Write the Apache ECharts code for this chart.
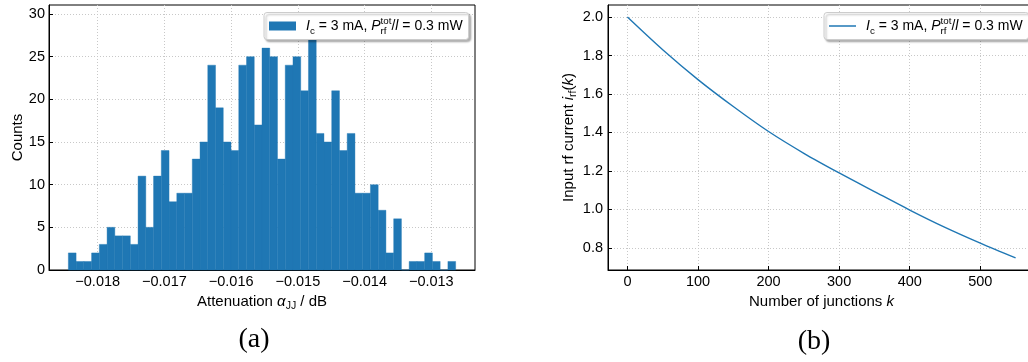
<!DOCTYPE html>
<html><head><meta charset="utf-8">
<script src="https://cdn.jsdelivr.net/npm/echarts@6/dist/echarts.min.js"></script>
<style>html,body{margin:0;padding:0;background:#fff}#c{width:1028px;height:362px}</style>
</head><body><div id="c"></div>
<script>
// ---- data ----
const binStart = -0.01844;
const binWidth = 0.0001161;
const binCounts = [2,1,1,2,3,5,4,4,3,11, 5,11,14,8,9,9,13,15,24,19, 15,14,24,25,17,26,25,13,24,25, 21,29,16,15,21,14,16,9,9,10, 7,2,6,0,1,1,2,1,0,1];
const histXTicks = [-0.018,-0.017,-0.016,-0.015,-0.014,-0.013];
const histYTicks = [0,5,10,15,20,25,30];
const junctions = [0,50,100,150,200,250,300,350,400,450,500,550];
const inputCurrent = [2.000,1.830,1.675,1.535,1.405,1.292,1.190,1.093,0.997,0.907,0.825,0.748];
const curveXTicks = [0,100,200,300,400,500];
const curveYTicks = [0.8,1.0,1.2,1.4,1.6,1.8,2.0];

// ---- styling ----
const FONT = "'Liberation Sans', Arial, sans-serif";
const FS_TICK = 14.5;
const FS_NAME = 15;
const FS_LEG = 14;
const BLUE = '#1f77b4';
function makeRich(fs) {
  const sfs = Math.round(fs * 0.7 * 10) / 10;
  return {
    t: {fontFamily: FONT, fontSize: fs, color: '#000', lineHeight: 20},
    i: {fontFamily: FONT, fontSize: fs, color: '#000', lineHeight: 20, fontStyle: 'italic'},
    sub: {fontFamily: FONT, fontSize: sfs, color: '#000', lineHeight: 10, verticalAlign: 'bottom'},
    subz: {fontFamily: FONT, fontSize: sfs, color: '#000', lineHeight: 10, verticalAlign: 'bottom', width: 0},
    sup: {fontFamily: FONT, fontSize: sfs, color: '#000', lineHeight: 10, verticalAlign: 'top'}
  };
}
const legendText = '{i|I}{sub|c}{t| = 3 mA, }{i|P}{subz|rf}{sup|tot}{t|/}{i|l}{t| = 0.3 mW}';

const histData = binCounts.map((c, i) => [binStart + i * binWidth, binStart + (i + 1) * binWidth, c]);
const curveData = junctions.map((k, i) => [k, inputCurrent[i]]);

const gridLine = {show: true, lineStyle: {color: '#c8c8c8', width: 1, type: [1, 2]}};
const axisLine = {show: true, onZero: false, lineStyle: {color: '#000', width: 1}};
function tick(vals) { return {show: true, inside: true, length: 4, lineStyle: {color: '#000'}, customValues: vals}; }
function lab(vals, fmt, margin) { return {color: '#000', fontFamily: FONT, fontSize: FS_TICK, customValues: vals, formatter: fmt, margin: margin}; }
const minusFmt = d => v => (v < 0 ? '\u2212' : '') + Math.abs(v).toFixed(d);
const nameStyle = {fontFamily: FONT, fontSize: FS_NAME, color: '#000', rich: makeRich(FS_NAME)};

const legendCommon = {
  orient: 'horizontal', top: 12.5, itemWidth: 27, itemHeight: 9,
  padding: [3.5, 6, 3.5, 5], backgroundColor: '#fff', borderColor: '#cccccc', borderWidth: 1, borderRadius: 3,
  shadowColor: 'rgba(0,0,0,0.3)', shadowBlur: 2, shadowOffsetX: 2, shadowOffsetY: 2,
  formatter: () => legendText, selectedMode: false,
  textStyle: {padding: [0, 0, 0, 5], rich: makeRich(FS_LEG), fontFamily: FONT, fontSize: FS_LEG, color: '#000'}
};

const option = {
  animation: false,
  backgroundColor: '#fff',
  grid: [
    {left: 49, top: 5, width: 426, height: 265, show: true, borderColor: '#000', borderWidth: 1, backgroundColor: 'transparent', outerBoundsMode: 'none', containLabel: false},
    {left: 608, top: 5, width: 427, height: 265, show: true, borderColor: '#000', borderWidth: 1, backgroundColor: 'transparent', outerBoundsMode: 'none', containLabel: false}
  ],
  xAxis: [
    {type: 'value', gridIndex: 0, min: -0.01873, max: -0.012345, axisLine: axisLine, axisTick: tick(histXTicks),
     axisLabel: lab(histXTicks, minusFmt(3), 4), splitLine: gridLine,
     name: 'Attenuation {i|α}{sub|JJ}{t| / dB}', nameLocation: 'middle', nameGap: 20, nameTextStyle: nameStyle},
    {type: 'value', gridIndex: 1, min: -27.5, max: 577.5, axisLine: axisLine, axisTick: tick(curveXTicks),
     axisLabel: lab(curveXTicks, v => String(v), 4), splitLine: gridLine,
     name: 'Number of junctions {i|k}', nameLocation: 'middle', nameGap: 20, nameTextStyle: nameStyle}
  ],
  yAxis: [
    {type: 'value', gridIndex: 0, min: 0, max: 31.05, axisLine: axisLine, axisTick: tick(histYTicks),
     axisLabel: lab(histYTicks, v => String(v), 4), splitLine: gridLine,
     name: 'Counts', nameLocation: 'middle', nameGap: 22, nameTextStyle: {fontFamily: FONT, fontSize: FS_NAME, color: '#000'}},
    {type: 'value', gridIndex: 1, min: 0.6854, max: 2.0626, axisLine: axisLine, axisTick: tick(curveYTicks),
     axisLabel: lab(curveYTicks, v => v.toFixed(1), 5), splitLine: gridLine,
     name: 'Input rf current {i|i}{sub|rf}{t|(}{i|k}{t|)}', nameLocation: 'middle', nameGap: 28, nameTextStyle: nameStyle}
  ],
  legend: [
    Object.assign({}, legendCommon, {left: 264, data: [{name: 'hist', icon: 'rect'}]}),
    Object.assign({}, legendCommon, {left: 824, itemHeight: 1.5, data: [{name: 'curve', icon: 'rect'}]})
  ],
  series: [
    {name: 'hist', type: 'custom', xAxisIndex: 0, yAxisIndex: 0, data: histData,
     encode: {x: [0, 1], y: 2}, itemStyle: {color: BLUE},
     renderItem: function (params, api) {
       const p0 = api.coord([api.value(0), api.value(2)]);
       const p1 = api.coord([api.value(1), 0]);
       return {type: 'rect', shape: {x: p0[0], y: p0[1], width: p1[0] - p0[0], height: p1[1] - p0[1]},
               style: {fill: BLUE, stroke: BLUE, lineWidth: 0.4}};
     }},
    {name: 'curve', type: 'line', xAxisIndex: 1, yAxisIndex: 1, data: curveData, symbol: 'none', showSymbol: false,
     smooth: 0.3,
     lineStyle: {color: BLUE, width: 1.4}, itemStyle: {color: BLUE}}
  ],
  graphic: [
    {type: 'text', x: 254, y: 340, style: {text: '(a)', font: "28px 'Liberation Serif', 'DejaVu Serif', serif", fill: '#000', align: 'center', verticalAlign: 'middle'}},
    {type: 'text', x: 814, y: 342, style: {text: '(b)', font: "28px 'Liberation Serif', 'DejaVu Serif', serif", fill: '#000', align: 'center', verticalAlign: 'middle'}}
  ]
};
const chart = echarts.init(document.getElementById('c'), null, {renderer: 'canvas'});
chart.setOption(option);
</script></body></html>
